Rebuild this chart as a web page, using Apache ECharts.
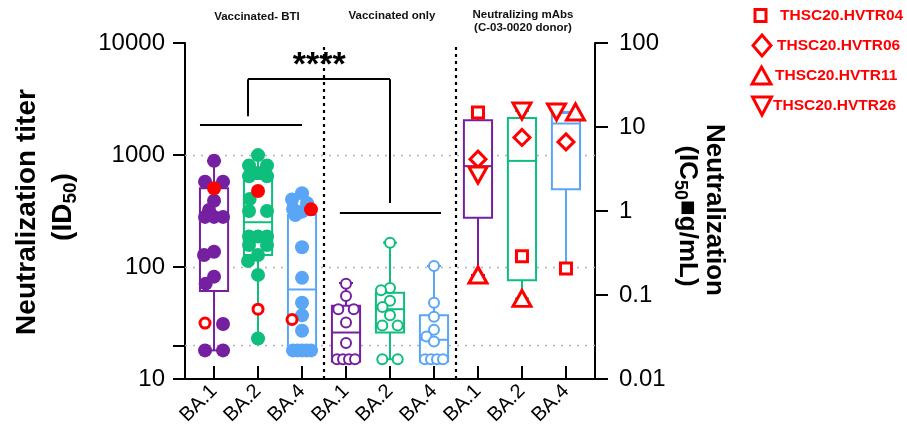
<!DOCTYPE html>
<html><head><meta charset="utf-8">
<script src="https://cdn.jsdelivr.net/npm/echarts@6/dist/echarts.min.js"></script>
<style>html,body{margin:0;padding:0;background:#fff}#c{width:907px;height:437px}</style>
</head><body><div id="c"></div>
<script>
// ---------- data ----------
const categories = ['BA.1','BA.2','BA.4','BA.1','BA.2','BA.4','BA.1','BA.2','BA.4'];
const groupLabels = ['Vaccinated- BTI','Vaccinated only','Neutralizing mAbs','(C-03-0020 donor)'];
const leftTickLabels = [10,100,1000,10000];
const leftTicks = [10,20,100,1000,10000];
const rightTickLabels = [0.01,0.1,1,10,100];
const gridValues = [20,100,1000];
const separators = [2.5,5.5];

// Vaccinated-BTI (ID50), filled dots
const btiBA1 = [887,577,577,391,323,280,280,280,137,128,82,71,31,18,18];
const btiBA2 = [998,805,805,690,646,646,405,316,316,187,187,187,157,157,128,113,85,23];
const btiBA4 = [455,400,372,330,312,291,150,80,48,37,27,18,18,18,18,18];
const btiRedFilled = [504,477,327];
const btiRedOpen = [31.6,42,34];
// Vaccinated only (ID50), open circles
const vacBA1 = [71,55,42,42,32,21,15,15,15,15];
const vacBA2 = [165,65,62,50,44,37,30,30,15,15];
const vacBA4 = [102,48,36,27.5,24,21.6,15,15,15,15];
// Neutralizing mAbs (IC50 ug/mL) for BA.1, BA.2, BA.4
const mabNames = ['THSC20.HVTR04','THSC20.HVTR06','THSC20.HVTR11','THSC20.HVTR26'];
const mabHVTR04 = [14.9,0.29,0.207];
const mabHVTR06 = [4.14,7.5,6.65];
const mabHVTR11 = [0.173,0.091,15.1];
const mabHVTR26 = [2.67,15.5,15.1];
// box plots per category: min, q1, median, q3, max
const boxMin = [18,23,18,14.3,15,14.3,0.173,0.091,0.207];
const boxQ1  = [61,128,18,14.3,26,14.3,0.83,0.15,1.82];
const boxMed = [280,251,63,26,42,22.4,3.42,3.95,11];
const boxQ3  = [504,610,291,45,59,37,12,12.8,14.7];
const boxMax = [887,998,450,72,165,102,14.9,15.5,15.1];
// significance annotation (category units, ID50 values)
const sigText = '****';
const sigSegments = [
  [-0.32,1850, 2.0,1850],
  [0.77,2220, 0.77,4750],
  [0.77,4750, 4.0,4750],
  [4.0,4750, 4.0,373],
  [2.86,304, 5.16,304]
];
const sigTextPos = [2.39, 6300];

// ---------- styles ----------
const FONT = '"Liberation Sans", Arial, Helvetica, sans-serif';
const COLORS = ['#7420A0','#0DBE7C','#5AA5F6'];
const RED = '#FF0000';
const X_MIN = -0.66, X_MAX = 8.66;
const BOX_W = 0.64, CAP_W = 0.32;

const chart = echarts.init(document.getElementById('c'));
const fmt = v => String(+Number(v).toPrecision(6));

const baseOption = {
  animation: false,
  grid: {left:185, right:312, top:43, bottom:58},
  xAxis: {
    type:'value', min:X_MIN, max:X_MAX,
    axisLine:{show:true, onZero:false, lineStyle:{color:'#000', width:2}},
    axisTick:{show:true, inside:true, length:13, lineStyle:{color:'#000', width:2}, customValues:categories.map((c,i)=>i)},
    axisLabel:{show:true, customValues:categories.map((c,i)=>i), formatter:v=>categories[Math.round(v)],
      rotate:45, fontSize:20, color:'#000', margin:9, fontFamily:FONT},
    splitLine:{show:false}
  },
  yAxis: [
    {type:'log', logBase:10, min:10, max:10000, position:'left',
      axisLine:{show:true, onZero:false, lineStyle:{color:'#000', width:2}},
      axisTick:{show:true, length:12, lineStyle:{color:'#000', width:2}, customValues:leftTicks},
      axisLabel:{show:true, customValues:leftTickLabels, formatter:fmt, fontSize:24, color:'#000', margin:20, fontFamily:FONT},
      splitLine:{show:false}, minorTick:{show:false}},
    {type:'log', logBase:10, min:0.01, max:100, position:'right',
      axisLine:{show:true, onZero:false, lineStyle:{color:'#000', width:2}},
      axisTick:{show:true, length:13, lineStyle:{color:'#000', width:2}, customValues:rightTickLabels},
      axisLabel:{show:true, customValues:rightTickLabels, formatter:fmt, fontSize:24, color:'#000', margin:24, fontFamily:FONT},
      splitLine:{show:false}}
  ],
  series: []
};
chart.setOption(baseOption);

function toPx(axis, x, v){ return chart.convertToPixel({xAxisIndex:0, yAxisIndex:axis}, [x, v]); }
const pxPerUnit = toPx(0,1,100)[0] - toPx(0,0,100)[0];

// beeswarm layout computed in pixel space from the axis scale
function swarm(cat, axis, items, d, thr, maxW, reach){
  const pts = items.map((it,i)=>Object.assign({}, it, {py: toPx(axis, cat, it.v)[1], ord:i}));
  const sorted = pts.slice().sort((a,b)=> (a.py-b.py) || (a.ord-b.ord));
  const rows = [];
  sorted.forEach(p=>{ const r = rows[rows.length-1]; if(r && Math.abs(p.py-r[0].py) < 2) r.push(p); else rows.push([p]); });
  const placed = [];
  const cands = [0];
  for(let k=1; k<=6; k++){ cands.push(-k*reach/6, k*reach/6); }
  rows.forEach(r=>{
    const n = r.length;
    const sp = n>1 ? Math.min(d*1.4, maxW/(n-1)) : 0;
    const base = r.map((p,i)=>(i-(n-1)/2)*sp);
    const span = (n-1)*sp/2;
    let best = 0, bestScore = -1;
    for(const sh of cands){
      if(Math.abs(sh)+span > reach+0.01) continue;
      let minD = Infinity;
      r.forEach((p,i)=>placed.forEach(q=>{ minD = Math.min(minD, Math.hypot(base[i]+sh-q.dx, p.py-q.py)); }));
      if(minD >= thr){ best = sh; bestScore = Infinity; break; }
      if(minD > bestScore + 0.5){ bestScore = minD; best = sh; }
    }
    r.forEach((p,i)=>{ p.dx = base[i]+best; placed.push(p); });
  });
  return pts.map(p=>Object.assign(p, {x: cat + p.dx/pxPerUnit}));
}

// groups
const btiSets = [btiBA1, btiBA2, btiBA4];
const vacSets = [vacBA1, vacBA2, vacBA4];
const mabSets = [mabHVTR04, mabHVTR06, mabHVTR11, mabHVTR26];
const dotData = [], redFilledData = [], redOpenData = [], vacData = [];
const mabData = [[],[],[],[]];
for(let g=0; g<3; g++){
  const items = [{v:btiRedFilled[g], k:'rf'}, {v:btiRedOpen[g], k:'ro'}].concat(btiSets[g].map(v=>({v, k:'dot'})));
  swarm(g, 0, items, 14, 10.5, 18, 10).forEach(p=>{
    if(p.k==='dot') dotData.push({value:[p.x, p.v], itemStyle:{color:COLORS[g]}});
    else if(p.k==='rf') redFilledData.push([p.x, p.v]);
    else redOpenData.push([p.x, p.v]);
  });
  swarm(g+3, 0, vacSets[g].map(v=>({v})), 11, 9, 18, 9).forEach(p=>{
    vacData.push({value:[p.x, p.v], itemStyle:{color:'#fff', borderColor:COLORS[g], borderWidth:2}});
  });
  const order = [0,1,3,2];
  const mi = order.map(s=>({v:mabSets[s][g], s}));
  swarm(g+6, 1, mi, 14, 10, 19, 10).forEach(p=>{ mabData[p.s].push([p.x, p.v]); });
}

function boxData(from, to){
  const out = [];
  for(let i=from; i<to; i++) out.push([i, boxMin[i], boxQ1[i], boxMed[i], boxQ3[i], boxMax[i]]);
  return out;
}
function renderBox(params, api){
  const x = api.value(0);
  const col = COLORS[Math.round(x)%3];
  const p = k => api.coord([x, api.value(k)]);
  const pMin=p(1), pQ1=p(2), pMed=p(3), pQ3=p(4), pMax=p(5);
  const cx = pMed[0];
  const hw = api.coord([x+BOX_W/2, api.value(3)])[0]-cx;
  const cw = api.coord([x+CAP_W/2, api.value(3)])[0]-cx;
  const st = {stroke:col, lineWidth:2, fill:null};
  return {type:'group', children:[
    {type:'line', shape:{x1:cx,y1:pMax[1],x2:cx,y2:pQ3[1]}, style:st},
    {type:'line', shape:{x1:cx-cw,y1:pMax[1],x2:cx+cw,y2:pMax[1]}, style:st},
    {type:'line', shape:{x1:cx,y1:pQ1[1],x2:cx,y2:pMin[1]}, style:st},
    {type:'line', shape:{x1:cx-cw,y1:pMin[1],x2:cx+cw,y2:pMin[1]}, style:st},
    {type:'rect', shape:{x:cx-hw,y:pQ3[1],width:2*hw,height:pQ1[1]-pQ3[1]}, style:{stroke:col,lineWidth:2,fill:'#fff'}},
    {type:'line', shape:{x1:cx-hw,y1:pMed[1],x2:cx+hw,y2:pMed[1]}, style:st}
  ]};
}

const gridLineData = gridValues.map(v=>({yAxis:v, lineStyle:{color:'#b5b5b5', width:1.3, type:[2,6]}}));
const sepData = separators.map(v=>({xAxis:v, lineStyle:{color:'#000', width:2.2, type:[3,4]}}));
const sigData = sigSegments.map(s=>[{coord:[s[0],s[1]], lineStyle:{color:'#000', width:2, type:'solid'}},{coord:[s[2],s[3]]}]);

const starPx = toPx(0, sigTextPos[0], sigTextPos[1]);
const openRed = {color:'#fff', borderColor:RED, borderWidth:3, opacity:1};

const series = [
  {type:'line', data:[], yAxisIndex:0, z:1, silent:true,
    markLine:{silent:true, symbol:['none','none'], label:{show:false}, z:1, animation:false, data:gridLineData}},
  {type:'custom', name:'boxL', yAxisIndex:0, z:2, renderItem:renderBox, data:boxData(0,6), encode:{x:0, y:[1,2,3,4,5]}, silent:true},
  {type:'custom', name:'boxR', yAxisIndex:1, z:2, renderItem:renderBox, data:boxData(6,9), encode:{x:0, y:[1,2,3,4,5]}, silent:true},
  {type:'scatter', name:'BTI', yAxisIndex:0, z:3, symbol:'circle', symbolSize:14, itemStyle:{opacity:1}, data:dotData},
  {type:'scatter', name:'BTI red', yAxisIndex:0, z:4, symbol:'circle', symbolSize:14, itemStyle:{color:RED, opacity:1}, data:redFilledData},
  {type:'scatter', name:'BTI red open', yAxisIndex:0, z:4, symbol:'circle', symbolSize:10, itemStyle:openRed, data:redOpenData},
  {type:'scatter', name:'Vaccinated only', yAxisIndex:0, z:3, symbol:'circle', symbolSize:10, itemStyle:{opacity:1}, data:vacData},
  {type:'scatter', name:mabNames[0], yAxisIndex:1, z:4, symbol:'rect', symbolSize:11, itemStyle:openRed, data:mabData[0]},
  {type:'scatter', name:mabNames[1], yAxisIndex:1, z:4, symbol:'diamond', symbolSize:[16,16], itemStyle:openRed, data:mabData[1]},
  {type:'scatter', name:mabNames[2], yAxisIndex:1, z:4, symbol:'triangle', symbolSize:[18,16], itemStyle:openRed, data:mabData[2]},
  {type:'scatter', name:mabNames[3], yAxisIndex:1, z:4, symbol:'triangle', symbolRotate:180, symbolSize:[18,16], itemStyle:openRed, data:mabData[3]},
  {type:'line', data:[], yAxisIndex:0, z:5, silent:true,
    markLine:{silent:true, symbol:['none','none'], label:{show:false}, z:5, animation:false, data:sepData.concat(sigData)}}
];

const bold = s => 'bold ' + s + 'px ' + FONT;
const legendShapes = [
  {type:'rect', shape:{x:755, y:9.5, width:11, height:12}},
  {type:'polygon', shape:{points:[[762,35],[771,45.5],[762,56],[753,45.5]]}},
  {type:'polygon', shape:{points:[[761.5,67],[771,84],[752,84]]}},
  {type:'polygon', shape:{points:[[752.5,97],[771.5,97],[762,115]]}}
];
const legendText = [[780,16],[777,46],[775,76],[773,106]];
const graphic = [];
legendShapes.forEach((s,i)=>{
  graphic.push(Object.assign({}, s, {style:{fill:'#fff', stroke:RED, lineWidth:3}}));
  graphic.push({type:'text', x:legendText[i][0], y:legendText[i][1], style:{text:mabNames[i], fill:RED, font:bold(15.5), textAlign:'left', textVerticalAlign:'middle'}});
});
graphic.push(
  {type:'text', x:257, y:17, style:{text:groupLabels[0], fill:'#111', font:bold(11.5), textAlign:'center', textVerticalAlign:'middle'}},
  {type:'text', x:392, y:16, style:{text:groupLabels[1], fill:'#111', font:bold(11.5), textAlign:'center', textVerticalAlign:'middle'}},
  {type:'text', x:523, y:15, style:{text:groupLabels[2], fill:'#111', font:bold(11.5), textAlign:'center', textVerticalAlign:'middle'}},
  {type:'text', x:523, y:28, style:{text:groupLabels[3], fill:'#111', font:bold(11.5), textAlign:'center', textVerticalAlign:'middle'}},
  {type:'text', x:starPx[0], y:starPx[1], style:{text:sigText, fill:'#000', font:bold(34), textAlign:'center', textVerticalAlign:'middle'}},
  {type:'text', x:27, y:212, rotation:Math.PI/2, style:{text:'Neutralization titer', fill:'#000', font:bold(28), textAlign:'center', textVerticalAlign:'middle'}},
  {type:'text', x:63, y:207, rotation:Math.PI/2, style:{text:'{a|(ID}{s|50}{a|)}', textAlign:'center', textVerticalAlign:'middle',
     rich:{a:{font:bold(28), fill:'#000', lineHeight:34}, s:{font:bold(19), fill:'#000', lineHeight:18, verticalAlign:'bottom'}}}},
  {type:'text', x:714, y:210, rotation:-Math.PI/2, style:{text:'Neutralization', fill:'#000', font:bold(26), textAlign:'center', textVerticalAlign:'middle'}},
  {type:'text', x:687, y:216, rotation:-Math.PI/2, style:{text:'{a|(IC}{s|50}{a|\u25A0g/mL)}', textAlign:'center', textVerticalAlign:'middle',
     rich:{a:{font:bold(26), fill:'#000', lineHeight:32}, s:{font:bold(18), fill:'#000', lineHeight:17, verticalAlign:'bottom'}}}}
);

chart.setOption(Object.assign({}, baseOption, {series, graphic}), true);
</script>
</body></html>
